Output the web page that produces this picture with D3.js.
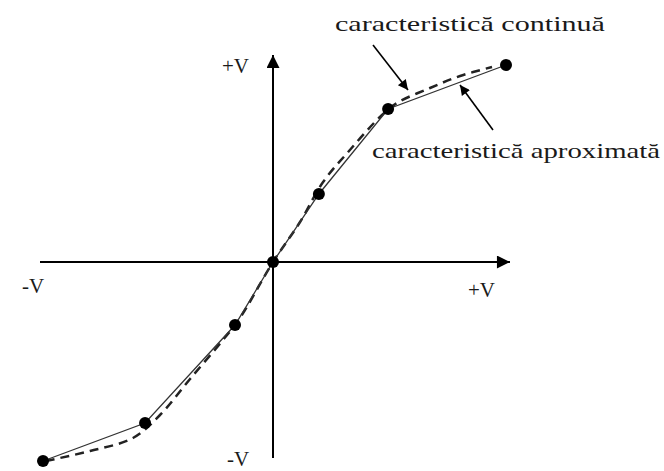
<!DOCTYPE html>
<html>
<head>
<meta charset="utf-8">
<script src="https://cdn.jsdelivr.net/npm/d3@7"></script>
<style>
  html, body { margin: 0; padding: 0; background: #fff; }
  svg { display: block; }
  text { font-family: "Liberation Serif", "Times New Roman", serif; fill: #1a1a1a; }
</style>
</head>
<body>
<svg id="chart" width="664" height="471"></svg>
<script>
// Approximated (piecewise-linear) characteristic: breakpoints, normalised to ±V
const approxX = [-0.987, -0.549, -0.163, 0, 0.197, 0.494, 1.0];
const approxY = [-0.995, -0.805, -0.315, 0, 0.34, 0.765, 0.985];

// Continuous characteristic, sampled along the curve
const contX = [-0.975, -0.785, -0.601, -0.485, -0.356, -0.215, -0.142, 0, 0.116, 0.215, 0.33, 0.459, 0.532, 0.674, 0.803, 0.94];
const contY = [-0.995, -0.945, -0.88, -0.765, -0.585, -0.39, -0.28, 0, 0.2, 0.40, 0.56, 0.725, 0.795, 0.87, 0.93, 0.975];

// Axis extents and labels
const axisX = [-1.0, 1.017];
const axisY = [-0.98, 1.035];
const axisLabels = ["+V", "-V", "+V", "-V"];
const curveLabels = ["caracteristică continuă", "caracteristică aproximată"];

const svg = d3.select("#chart");
const x = d3.scaleLinear().domain([-1, 1]).range([40, 506]);
const y = d3.scaleLinear().domain([-1, 1]).range([462, 62]);

const defs = svg.append("defs");
defs.append("marker")
  .attr("id", "axisHead").attr("viewBox", "0 0 10 10")
  .attr("refX", 10).attr("refY", 5)
  .attr("markerUnits", "userSpaceOnUse")
  .attr("markerWidth", 16).attr("markerHeight", 13)
  .attr("orient", "auto")
  .append("path").attr("d", "M0,0 L10,5 L0,10 Z").attr("fill", "#000");
defs.append("marker")
  .attr("id", "noteHead").attr("viewBox", "0 0 10 10")
  .attr("refX", 10).attr("refY", 5)
  .attr("markerUnits", "userSpaceOnUse")
  .attr("markerWidth", 13).attr("markerHeight", 10)
  .attr("orient", "auto")
  .append("path").attr("d", "M0,0 L10,5 L0,10 Z").attr("fill", "#000");

// Axes
svg.append("line")
  .attr("x1", x(axisX[0])).attr("y1", y(0))
  .attr("x2", x(axisX[1])).attr("y2", y(0))
  .attr("stroke", "#000").attr("stroke-width", 2)
  .attr("marker-end", "url(#axisHead)");
svg.append("line")
  .attr("x1", x(0)).attr("y1", y(axisY[0]))
  .attr("x2", x(0)).attr("y2", y(axisY[1]))
  .attr("stroke", "#000").attr("stroke-width", 2)
  .attr("marker-end", "url(#axisHead)");

// Continuous characteristic (dashed)
const contPts = contX.map((d, i) => [x(d), y(contY[i])]);
svg.append("path")
  .attr("d", d3.line().curve(d3.curveCatmullRom.alpha(0.5))(contPts))
  .attr("fill", "none").attr("stroke", "#222")
  .attr("stroke-width", 2.5).attr("stroke-dasharray", "9,6");

// Approximated characteristic (solid) and breakpoints
const approxPts = approxX.map((d, i) => [x(d), y(approxY[i])]);
svg.append("path")
  .attr("d", d3.line()(approxPts))
  .attr("fill", "none").attr("stroke", "#333").attr("stroke-width", 1.3);
svg.selectAll("circle.pt").data(approxPts).enter().append("circle")
  .attr("class", "pt")
  .attr("cx", d => d[0]).attr("cy", d => d[1]).attr("r", 6)
  .attr("fill", "#000");

// Axis labels
const labelPos = [
  { x: 222, y: 73 },   // +V top
  { x: 22, y: 293 },   // -V left
  { x: 468, y: 297 },  // +V right
  { x: 227, y: 466 }   // -V bottom
];
svg.selectAll("text.ax").data(axisLabels).enter().append("text")
  .attr("class", "ax")
  .attr("x", (d, i) => labelPos[i].x).attr("y", (d, i) => labelPos[i].y)
  .attr("font-size", 21)
  .text(d => d);

// Curve annotations with pointer arrows
svg.append("text").attr("x", 335).attr("y", 31)
  .attr("font-size", 21)
  .attr("textLength", 270).attr("lengthAdjust", "spacingAndGlyphs")
  .text(curveLabels[0]);
svg.append("text").attr("x", 372).attr("y", 158)
  .attr("font-size", 21)
  .attr("textLength", 288).attr("lengthAdjust", "spacingAndGlyphs")
  .text(curveLabels[1]);

svg.append("line")
  .attr("x1", 373).attr("y1", 45).attr("x2", 408).attr("y2", 90)
  .attr("stroke", "#000").attr("stroke-width", 1.6)
  .attr("marker-end", "url(#noteHead)");
svg.append("line")
  .attr("x1", 493).attr("y1", 130).attr("x2", 460).attr("y2", 85)
  .attr("stroke", "#000").attr("stroke-width", 1.6)
  .attr("marker-end", "url(#noteHead)");
</script>
</body>
</html>
